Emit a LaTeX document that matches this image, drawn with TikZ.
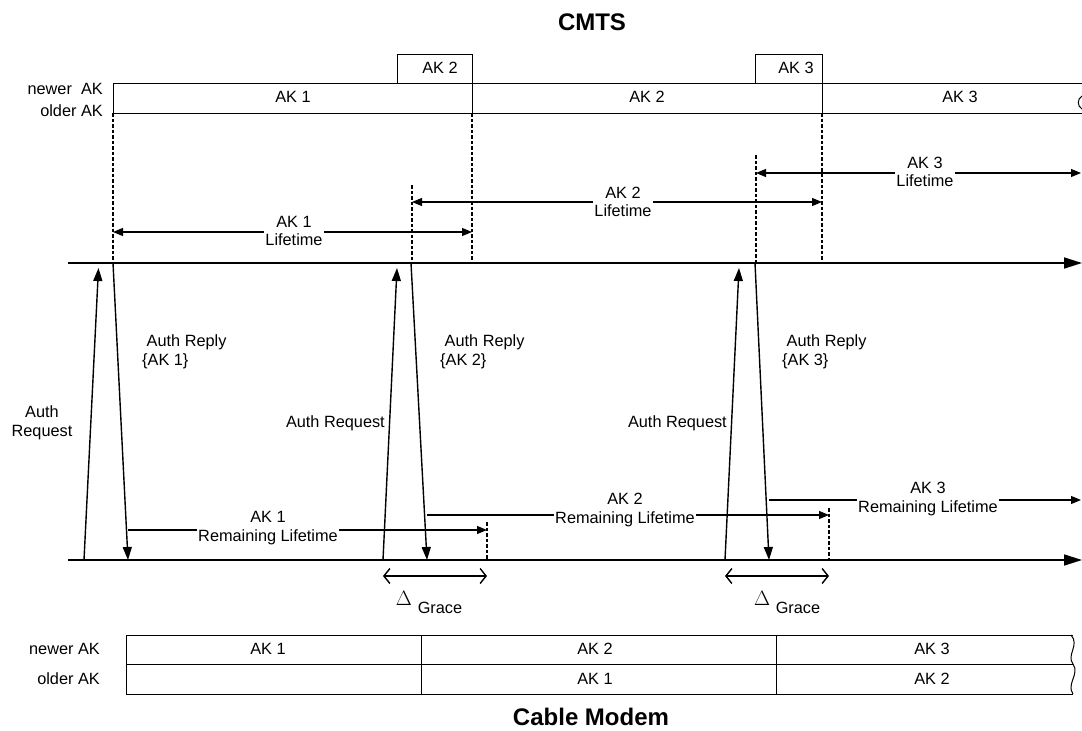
\documentclass[tikz,border=0pt]{standalone}
\usepackage{fontspec}
\setmainfont{Liberation Sans}
\usetikzlibrary{arrows.meta}
\begin{document}
\begin{tikzpicture}[x=1pt,y=-1pt,
  lbl/.style={font=\fontsize{16.3}{18.5}\selectfont, inner sep=1pt, align=center},
  wlbl/.style={lbl, fill=white},
  ln/.style={line width=1pt},
  dsh/.style={dash pattern=on 3.5pt off 2pt, line width=1.1pt},
  arr/.style={line width=1.4pt, -{Triangle[length=13pt,width=9pt]}},
  darr/.style={line width=1.1pt, {Triangle[length=10pt,width=8pt]}-{Triangle[length=10pt,width=8pt]}},
  rarr/.style={line width=1.1pt, -{Triangle[length=10pt,width=8pt]}},
  tl/.style={line width=1.7pt, -{Triangle[length=18pt,width=11pt]}},
  garr/.style={line width=1.4pt, {Straight Barb[length=6pt,width=15pt]}-{Straight Barb[length=6pt,width=15pt]}},
  ttl/.style={font=\bfseries\fontsize{24}{26}\selectfont, inner sep=0pt}
]
\useasboundingbox (0,0) rectangle (1082,731);

% titles
\node[ttl] (cmts) at (592,22) {CMTS};
\node[ttl] (cm) at (591,717) {Cable Modem};

% CMTS key bar
\draw[ln] (1082,83) -- (113,83) -- (113,113) -- (1082,113);
\draw[ln] (472,83) -- (472,113);
\draw[ln] (822,83) -- (822,113);
\draw[ln] (397,83) |- (472,54) -- (472,83);
\draw[ln] (755,83) |- (822,54) -- (822,83);
\draw[ln] (1082,96) .. controls (1077,99) and (1077,106) .. (1082,109);
\node[lbl] (n2) at (440,68) {AK 2};
\node[lbl] (n3) at (796,68) {AK 3};
\node[lbl] (o1) at (293,97) {AK 1};
\node[lbl] (o2) at (647,97) {AK 2};
\node[lbl] (o3) at (960,97) {AK 3};
\node[lbl, anchor=east] (tnew) at (104,89) {newer\ \ AK};
\node[lbl, anchor=east] (told) at (104,111) {older AK};

% timelines
\coordinate (tA) at (68,263); \coordinate (tB) at (1082,263);
\coordinate (bA) at (68,560); \coordinate (bB) at (1082,560);
\draw[tl] (tA) -- (tB);
\draw[tl] (bA) -- (bB);

% dashed verticals
\draw[dsh] (113,113) -- (113,263);
\draw[dsh] (472,113) -- (472,263);
\draw[dsh] (412,185) -- (412,263);
\draw[dsh] (822,113) -- (822,263);
\draw[dsh] (756,155) -- (756,263);
\draw[dsh] (487,522) -- (487,560);
\draw[dsh] (829,508) -- (829,560);

% request / reply arrows
\coordinate (rq1a) at (84,560);  \coordinate (rq1b) at (98.5,268);
\coordinate (rp1a) at (113,263); \coordinate (rp1b) at (128,560);
\coordinate (rq2a) at (383,560); \coordinate (rq2b) at (397,268);
\coordinate (rp2a) at (411,263); \coordinate (rp2b) at (427,560);
\coordinate (rq3a) at (725,560); \coordinate (rq3b) at (739,268);
\coordinate (rp3a) at (755,263); \coordinate (rp3b) at (769,560);
\draw[arr] (rq1a) -- (rq1b);
\draw[arr] (rp1a) -- (rp1b);
\draw[arr] (rq2a) -- (rq2b);
\draw[arr] (rp2a) -- (rp2b);
\draw[arr] (rq3a) -- (rq3b);
\draw[arr] (rp3a) -- (rp3b);

\node[lbl] (lrq1) at (42,423) {Auth\\Request};
\node[lbl, anchor=east] (lrq2) at (386,423) {Auth Request};
\node[lbl, anchor=east] (lrq3) at (728,423) {Auth Request};
\node[lbl, align=left, anchor=west] (lrp1) at (141,352) {\ Auth Reply\\\{AK 1\}};
\node[lbl, align=left, anchor=west] (lrp2) at (439,352) {\ Auth Reply\\\{AK 2\}};
\node[lbl, align=left, anchor=west] (lrp3) at (781,352) {\ Auth Reply\\\{AK 3\}};

% lifetimes
\draw[darr] (113,232) -- (472,232);
\draw[darr] (412,202) -- (822,202);
\draw[darr] (756,173) -- (1081,173);
\node[wlbl] (lt1) at (294,231) {AK 1\\Lifetime};
\node[wlbl] (lt2) at (623,202) {AK 2\\Lifetime};
\node[wlbl] (lt3) at (925,172) {AK 3\\Lifetime};

% remaining lifetimes
\draw[rarr] (128,530) -- (487,530);
\draw[rarr] (427,515) -- (829,515);
\draw[rarr] (769,500) -- (1081,500);
\node[wlbl] (rl1) at (268,528) {AK 1\\Remaining Lifetime};
\node[wlbl] (rl2) at (625,510) {AK 2\\Remaining Lifetime};
\node[wlbl] (rl3) at (928,499) {AK 3\\Remaining Lifetime};

% grace
\draw[garr] (383,576) -- (487,576);
\draw[garr] (725,576) -- (829,576);
\node[font=\fontsize{22}{24}\selectfont, inner sep=0pt] (d1) at (404,598) {$\Delta$};
\node[lbl] (g1) at (440,608) {Grace};
\node[font=\fontsize{22}{24}\selectfont, inner sep=0pt] (d2) at (762,598) {$\Delta$};
\node[lbl] (g2) at (798,608) {Grace};

% cable modem key table
\draw[ln] (1073,635) -- (126,635) -- (126,694) -- (1073,694);
\draw[ln] (126,664) -- (1073,664);
\draw[ln] (421,635) -- (421,694);
\draw[ln] (776,635) -- (776,694);
\draw[ln] (1071,635) .. controls (1080,645) and (1066,655) .. (1073,664)
                     .. controls (1080,674) and (1066,684) .. (1073,694);
\node[lbl] (c1) at (268,649) {AK 1};
\node[lbl] (c2) at (595,649) {AK 2};
\node[lbl] (c3) at (595,679) {AK 1};
\node[lbl] (c4) at (932,649) {AK 3};
\node[lbl] (c5) at (932,679) {AK 2};
\node[lbl, anchor=east] (bnew) at (101,649) {newer AK};
\node[lbl, anchor=east] (bold) at (101,679) {older AK};
\end{tikzpicture}
\end{document}
